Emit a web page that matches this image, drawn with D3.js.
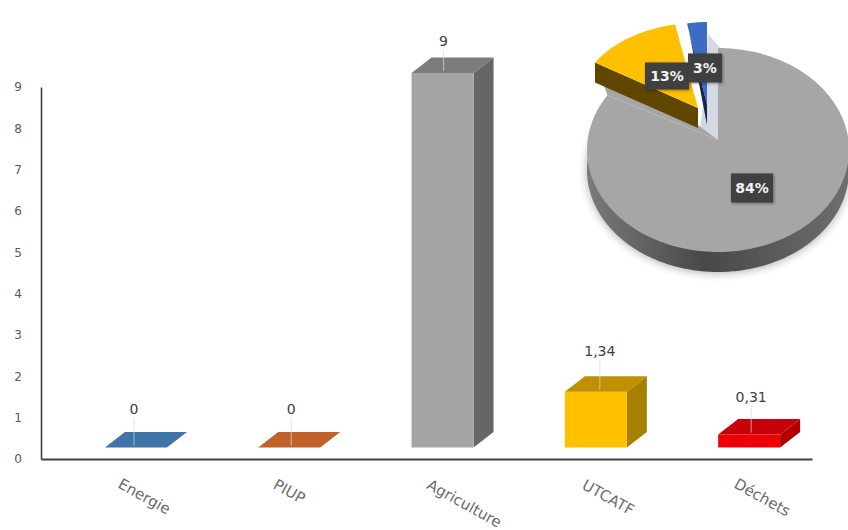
<!DOCTYPE html>
<html lang="fr">
<head>
<meta charset="utf-8">
<title>Émissions par secteur</title>
<script src="https://cdn.jsdelivr.net/npm/d3@7/dist/d3.min.js"></script>
<style>
  html, body { margin: 0; padding: 0; background: #fff; overflow: hidden; }
  svg { display: block; font-family: "DejaVu Sans", sans-serif; }
</style>
</head>
<body>
<svg id="chart" width="848" height="530"></svg>
<script>
// Sector totals
const categories = ["Energie", "PIUP", "Agriculture", "UTCATF", "Déchets"];
const barValues = [0, 0, 9, 1.34, 0.31];
const barLabels = ["0", "0", "9", "1,34", "0,31"];
const yTicks = [0, 1, 2, 3, 4, 5, 6, 7, 8, 9];

// Share of the three non-zero sectors
const pieNames = ["Agriculture", "UTCATF", "Déchets"];
const pieValues = [84, 13, 3];
const pieLabels = ["84%", "13%", "3%"];

const svg = d3.select("#chart");
const defs = svg.append("defs");

// Axis scale, and the bar scale whose floor sits a little above the axis line
const yAxisScale = d3.scaleLinear().domain([0, 9]).range([459, 87]);
const yBar = d3.scaleLinear().domain([0, 9]).range([447.5, 73]);
const x = d3.scaleBand().domain(categories).range([59.3, 825.8])
  .paddingInner(0.5956).paddingOuter(0.2978);

const barColors = {
  "Energie":     { front: "#3f74a6", side: "#34618b", top: "#3f74a6" },
  "PIUP":        { front: "#c0622a", side: "#a05020", top: "#c0622a" },
  "Agriculture": { front: "#a5a5a5", side: "#666666", top: "#7c7c7c" },
  "UTCATF":      { front: "#ffc000", side: "#a88000", top: "#bf9000" },
  "Déchets":     { front: "#ee0008", side: "#b00000", top: "#c80008" }
};
const depthX = 20, depthY = 15.5;

// Axes
const yAxis = d3.axisLeft(yAxisScale).tickValues(yTicks).tickSize(0).tickPadding(19);
const yG = svg.append("g").attr("transform", "translate(41,0)").call(yAxis);
yG.select(".domain").attr("stroke", "#404040").attr("stroke-width", 1.6);
yG.selectAll("text").attr("font-size", 12).attr("fill", "#595959")
  .attr("font-family", '"DejaVu Sans", sans-serif');

const xLine = d3.scaleLinear().domain([0, 1]).range([41, 812]);
const xG = svg.append("g").attr("transform", "translate(0,459)")
  .call(d3.axisBottom(xLine).tickValues([]).tickSizeOuter(0));
xG.select(".domain").attr("stroke", "#404040").attr("stroke-width", 1.8);

// Extruded columns
const poly = d3.line();
const labelGap = { "Energie": 18, "PIUP": 18, "Agriculture": 11.5, "UTCATF": 20, "Déchets": 17 };
const labelShift = { "Energie": -2, "PIUP": 2, "Agriculture": 1, "UTCATF": 4, "Déchets": 2 };
const bars = svg.append("g").selectAll("g").data(categories).join("g");
bars.each(function (c, i) {
  const g = d3.select(this);
  const x0 = x(c), x1 = x0 + x.bandwidth();
  const yb = yBar(0), yt = yBar(barValues[i]);
  const col = barColors[c];
  g.append("path").attr("fill", col.side).attr("d", poly([
    [x1, yb], [x1, yt], [x1 + depthX, yt - depthY], [x1 + depthX, yb - depthY]
  ]) + "Z");
  g.append("path").attr("fill", col.front).attr("d", poly([
    [x0, yb], [x1, yb], [x1, yt], [x0, yt]
  ]) + "Z");
  g.append("path").attr("fill", col.top).attr("d", poly([
    [x0, yt], [x1, yt], [x1 + depthX, yt - depthY], [x0 + depthX, yt - depthY]
  ]) + "Z");
  // Leader from the value label down onto the top face
  const lx = (x0 + x1) / 2 + labelShift[c];
  const baseline = yt - depthY - labelGap[c];
  g.append("line").attr("x1", lx).attr("x2", lx)
    .attr("y1", baseline + 4).attr("y2", yt - 2)
    .attr("stroke", "#d9d9d9").attr("stroke-opacity", 0.7).attr("stroke-width", 1);
  g.append("text").attr("x", lx).attr("y", baseline)
    .attr("text-anchor", "middle").attr("font-size", 14).attr("fill", "#404040")
    .text(barLabels[i]);
});

// Slanted category names
const catCenter = {
  "Energie": [144, 497], "PIUP": [289, 492], "Agriculture": [464, 504],
  "UTCATF": [608, 498], "Déchets": [762, 498]
};
svg.append("g").selectAll("text").data(categories).join("text")
  .attr("transform", c => `translate(${catCenter[c][0]},${catCenter[c][1]}) rotate(29)`)
  .attr("text-anchor", "middle").attr("dominant-baseline", "middle")
  .attr("font-size", 15).attr("fill", "#6a6a6a")
  .text(c => c);

// Exploded 3-D pie
const sliceAngles = d3.pie().sort(null).startAngle(0).endAngle(2 * Math.PI)(pieValues);
const rimPoint = (a, s) => [s.cx + s.rx * Math.sin(a), s.cy - s.ry * Math.cos(a)];
const sliceShapes = [
  { cx: 718, cy: 150, rx: 131, ry: 102, ax: 718, ay: 140, fill: "#a6a6a6", side: "url(#pieSide)" },
  { cx: 698, cy: 108, rx: 122, ry: 85, ax: 698, ay: 108, fill: "#ffc000", side: "#5f4700" },
  { cx: 707, cy: 105, rx: 106, ry: 83, ax: 707, ay: 105, fill: "#3c6cc4", side: "#14264f" }
];
const thickness = 20;
const slicePath = (d, s, dy = 0) => {
  const pts = [[s.ax, s.ay + dy]];
  const n = Math.ceil((d.endAngle - d.startAngle) * 60);
  d3.range(n + 1).forEach(k => {
    const p = rimPoint(d.startAngle + (d.endAngle - d.startAngle) * k / n, s);
    pts.push([p[0], p[1] + dy]);
  });
  return poly(pts) + "Z";
};

const sideGrad = defs.append("linearGradient").attr("id", "pieSide")
  .attr("x1", 0).attr("x2", 1).attr("y1", 0).attr("y2", 0);
sideGrad.append("stop").attr("offset", 0).attr("stop-color", "#7a7a7a");
sideGrad.append("stop").attr("offset", 0.45).attr("stop-color", "#484848");
sideGrad.append("stop").attr("offset", 1).attr("stop-color", "#6e6e6e");

const soft = defs.append("filter").attr("id", "soft")
  .attr("x", "-20%").attr("y", "-20%").attr("width", "140%").attr("height", "140%");
soft.append("feGaussianBlur").attr("stdDeviation", 5);
const boxShadow = defs.append("filter").attr("id", "boxShadow")
  .attr("x", "-20%").attr("y", "-20%").attr("width", "140%").attr("height", "140%");
boxShadow.append("feGaussianBlur").attr("stdDeviation", 1.5);

const pie = svg.append("g");
const [grayD, goldD, blueD] = sliceAngles;
const [grayS, goldS, blueS] = sliceShapes;
const grayEnd = rimPoint(grayD.endAngle, grayS);
const goldEdge = rimPoint(goldD.startAngle, goldS);
const blueEdge = rimPoint(blueD.startAngle, blueS);

// Drop shadow under the big slice, then its wall and face
pie.append("path").attr("d", slicePath(grayD, grayS, thickness + 1))
  .attr("fill", "#000").attr("opacity", 0.32).attr("filter", "url(#soft)");
pie.append("path").attr("d", slicePath(grayD, grayS, thickness)).attr("fill", grayS.side);

// Pale reflection in the gap behind the blue slice
pie.append("path").attr("fill", "#d4d9e2").attr("d", poly([
  [grayS.ax, grayS.ay], [720, 48], [708, 34], [704, 100], [goldS.ax + 2, goldS.ay + thickness]
]) + "Z");

// The big face, running right up under the gold wall
pie.append("path").attr("d", slicePath(grayD, grayS)).attr("fill", grayS.fill);
pie.append("path").attr("fill", grayS.fill).attr("d", poly([
  grayEnd, [grayS.ax, grayS.ay], [goldS.ax, goldS.ay + thickness - 3],
  [goldEdge[0] + 8, goldEdge[1] + thickness]
]) + "Z");

// Blue slice with its dark radial wall
pie.append("path").attr("d", slicePath(blueD, blueS)).attr("fill", blueS.fill);
pie.append("path").attr("fill", blueS.side).attr("d", poly([
  blueEdge, [blueS.ax, blueS.ay], [blueS.ax, blueS.ay + thickness],
  [blueEdge[0] + 1, blueEdge[1] + 3]
]) + "Z");

// Gold slice with its dark radial wall
pie.append("path").attr("fill", goldS.side).attr("d", poly([
  goldEdge, [goldS.ax, goldS.ay], [goldS.ax, goldS.ay + thickness],
  [goldEdge[0], goldEdge[1] + thickness]
]) + "Z");
pie.append("path").attr("d", slicePath(goldD, goldS)).attr("fill", goldS.fill);

// Percentage tags
const tagBoxes = [
  { cx: 752, cy: 188, w: 42, h: 29 },
  { cx: 667, cy: 76, w: 44, h: 27 },
  { cx: 705, cy: 68, w: 34, h: 29 }
];
const tags = svg.append("g").selectAll("g").data(pieLabels).join("g");
tags.append("rect").attr("x", (d, i) => tagBoxes[i].cx - tagBoxes[i].w / 2 + 1)
  .attr("y", (d, i) => tagBoxes[i].cy - tagBoxes[i].h / 2 + 1)
  .attr("width", (d, i) => tagBoxes[i].w).attr("height", (d, i) => tagBoxes[i].h)
  .attr("fill", "#000").attr("opacity", 0.4).attr("filter", "url(#boxShadow)");
tags.append("rect").attr("x", (d, i) => tagBoxes[i].cx - tagBoxes[i].w / 2)
  .attr("y", (d, i) => tagBoxes[i].cy - tagBoxes[i].h / 2)
  .attr("width", (d, i) => tagBoxes[i].w).attr("height", (d, i) => tagBoxes[i].h)
  .attr("fill", "#404040");
tags.append("text").attr("x", (d, i) => tagBoxes[i].cx)
  .attr("y", (d, i) => tagBoxes[i].cy + 1)
  .attr("text-anchor", "middle").attr("dominant-baseline", "middle")
  .attr("font-size", 14).attr("font-weight", "bold").attr("fill", "#f2f2f2")
  .text(d => d);
</script>
</body>
</html>
